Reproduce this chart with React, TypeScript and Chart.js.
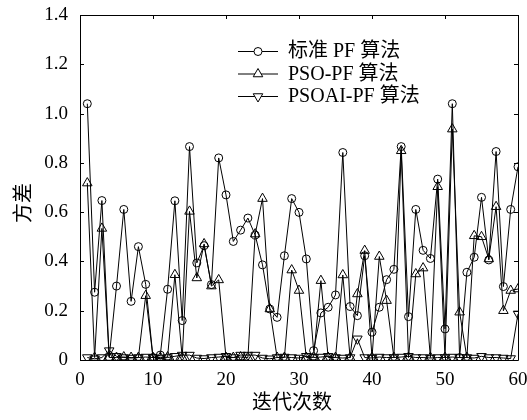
import React, { useEffect, useRef } from "react";
import { Chart, registerables } from "chart.js";

Chart.register(...registerables);

const iterations = [
  1, 2, 3, 4, 5, 6, 7, 8, 9, 10,
  11, 12, 13, 14, 15, 16, 17, 18, 19, 20,
  21, 22, 23, 24, 25, 26, 27, 28, 29, 30,
  31, 32, 33, 34, 35, 36, 37, 38, 39, 40,
  41, 42, 43, 44, 45, 46, 47, 48, 49, 50,
  51, 52, 53, 54, 55, 56, 57, 58, 59, 60,
];

const standardPF = [
  1.04, 0.275, 0.647, 0.012, 0.3, 0.611, 0.238, 0.46, 0.307, 0.01,
  0.02, 0.287, 0.646, 0.16, 0.866, 0.394, 0.464, 0.306, 0.82, 0.67,
  0.481, 0.527, 0.576, 0.507, 0.386, 0.207, 0.173, 0.423, 0.655, 0.599,
  0.41, 0.038, 0.191, 0.214, 0.264, 0.842, 0.217, 0.18, 0.423, 0.113,
  0.214, 0.326, 0.368, 0.866, 0.176, 0.611, 0.445, 0.412, 0.734, 0.126,
  1.04, 0.01, 0.356, 0.417, 0.66, 0.406, 0.846, 0.298, 0.611, 0.784,
];

const psoPF = [
  0.718, 0.01, 0.534, 0.01, 0.01, 0.012, 0.01, 0.01, 0.261, 0.01,
  0.01, 0.012, 0.346, 0.01, 0.603, 0.333, 0.471, 0.3, 0.325, 0.01,
  0.01, 0.012, 0.01, 0.511, 0.655, 0.207, 0.01, 0.01, 0.365, 0.282,
  0.01, 0.012, 0.322, 0.01, 0.01, 0.345, 0.01, 0.268, 0.444, 0.01,
  0.42, 0.241, 0.01, 0.849, 0.01, 0.349, 0.373, 0.01, 0.703, 0.01,
  0.937, 0.194, 0.01, 0.504, 0.5, 0.41, 0.622, 0.2, 0.282, 0.288,
];

const psoaiPF = [
  0.01, 0.005, 0.01, 0.038, 0.015, 0.01, 0.008, 0.01, 0.012, 0.01,
  0.006, 0.01, 0.015, 0.02, 0.02, 0.008, 0.006, 0.01, 0.012, 0.015,
  0.01, 0.02, 0.02, 0.02, 0.008, 0.005, 0.01, 0.012, 0.01, 0.008,
  0.015, 0.01, 0.012, 0.015, 0.01, 0.008, 0.01, 0.086, 0.01, 0.008,
  0.012, 0.01, 0.01, 0.012, 0.015, 0.01, 0.01, 0.008, 0.01, 0.01,
  0.012, 0.01, 0.01, 0.008, 0.015, 0.01, 0.01, 0.008, 0.006, 0.187,
];

const seriesLabels = ["标准 PF 算法", "PSO-PF 算法", "PSOAI-PF 算法"];
const xTicks = [0, 10, 20, 30, 40, 50, 60];
const yTicks = [0, 0.2, 0.4, 0.6, 0.8, 1.0, 1.2, 1.4];
const xTitle = "迭代次数";
const yTitle = "方差";

const FONT = "'Liberation Serif', 'Times New Roman', 'Noto Sans CJK SC', serif";
const CJK_FONT = "'Noto Sans CJK SC', 'Liberation Serif', serif";

const framePlugin = {
  id: "framePlugin",
  afterDraw(chart: any) {
    const { ctx, chartArea } = chart;
    const { left, right, top, bottom } = chartArea;
    const xs = chart.scales.x;
    const ys = chart.scales.y;
    ctx.save();
    ctx.strokeStyle = "#000";
    ctx.lineWidth = 1;
    ctx.beginPath();
    ctx.rect(Math.round(left) + 0.5, Math.round(top) + 0.5, Math.round(right - left), Math.round(bottom - top));
    ctx.stroke();
    const tl = 4;
    ctx.beginPath();
    xTicks.forEach((v) => {
      const px = Math.round(xs.getPixelForValue(v)) + 0.5;
      ctx.moveTo(px, bottom);
      ctx.lineTo(px, bottom - tl);
      ctx.moveTo(px, top);
      ctx.lineTo(px, top + tl);
    });
    yTicks.forEach((v) => {
      const py = Math.round(ys.getPixelForValue(v)) + 0.5;
      ctx.moveTo(left, py);
      ctx.lineTo(left + tl, py);
      ctx.moveTo(right, py);
      ctx.lineTo(right - tl, py);
    });
    ctx.stroke();

    // axis titles
    ctx.fillStyle = "#000";
    ctx.font = `20px ${CJK_FONT}`;
    ctx.textAlign = "center";
    ctx.textBaseline = "middle";
    ctx.fillText(xTitle, 292, 401);
    ctx.save();
    ctx.translate(22, 203);
    ctx.rotate(-Math.PI / 2);
    ctx.fillText(yTitle, 0, 0);
    ctx.restore();

    // legend
    const lx0 = 238;
    const lx1 = 278;
    const rowY = [51, 73.5, 96];
    chart.data.datasets.forEach((ds: any, i: number) => {
      const y = rowY[i];
      ctx.save();
      ctx.beginPath();
      ctx.strokeStyle = "#000";
      ctx.lineWidth = 1;
      ctx.moveTo(lx0, y + 0.5);
      ctx.lineTo(lx1, y + 0.5);
      ctx.stroke();
      ctx.fillStyle = "#fff";
      const cx = (lx0 + lx1) / 2;
      ctx.beginPath();
      if (ds.pointStyle === "circle") {
        ctx.arc(cx, y + 0.5, ds.pointRadius, 0, Math.PI * 2);
      } else {
        const r = ds.pointRadius;
        const dir = ds.pointRotation === 180 ? -1 : 1;
        for (let k = 0; k < 3; k++) {
          const a = (k * 2 * Math.PI) / 3;
          const px = cx + Math.sin(a) * r;
          const py = y + 0.5 - dir * Math.cos(a) * r;
          if (k === 0) ctx.moveTo(px, py);
          else ctx.lineTo(px, py);
        }
        ctx.closePath();
      }
      ctx.fill();
      ctx.stroke();
      ctx.fillStyle = "#000";
      ctx.font = `20px ${FONT}`;
      ctx.textAlign = "left";
      ctx.textBaseline = "middle";
      ctx.fillText(ds.label, 288, y + 1);
      ctx.restore();
    });
    ctx.restore();
  },
};

export default function App() {
  const ref = useRef<HTMLCanvasElement | null>(null);
  useEffect(() => {
    document.body.style.margin = "0";
    const canvas = ref.current;
    if (!canvas) return;
    const mk = (vals: number[]) => iterations.map((x, i) => ({ x, y: vals[i] }));
    const common = {
      borderColor: "#000",
      borderWidth: 1,
      backgroundColor: "rgba(0,0,0,0)",
      pointBorderColor: "#000",
      pointBackgroundColor: "rgba(0,0,0,0)",
      pointBorderWidth: 1,
      tension: 0,
      fill: false,
    };
    const chart = new Chart(canvas, {
      type: "line",
      data: {
        datasets: [
          { ...common, label: seriesLabels[0], data: mk(standardPF), pointStyle: "circle", pointRadius: 4 },
          { ...common, label: seriesLabels[1], data: mk(psoPF), pointStyle: "triangle", pointRadius: 5.5 },
          { ...common, label: seriesLabels[2], data: mk(psoaiPF), pointStyle: "triangle", pointRadius: 5.5, pointRotation: 180 },
        ] as any,
      },
      options: {
        animation: false,
        responsive: false,
        maintainAspectRatio: false,
        layout: { padding: { left: 0, top: 15, right: 9, bottom: 0 } },
        plugins: { legend: { display: false }, tooltip: { enabled: false } },
        elements: { point: { hitRadius: 0, hoverRadius: 0 } },
        scales: {
          x: {
            type: "linear",
            min: 0,
            max: 60,
            grid: { display: false, drawTicks: false },
            border: { display: false },
            afterBuildTicks: (s: any) => {
              s.ticks = xTicks.map((v) => ({ value: v }));
            },
            afterFit: (s: any) => {
              s.height = 60;
              s.paddingLeft = 0;
              s.paddingRight = 0;
            },
            ticks: {
              color: "#000",
              font: { family: FONT, size: 19 },
              padding: 9,
              maxRotation: 0,
              autoSkip: false,
              callback: (v: any) => String(v),
            },
          },
          y: {
            type: "linear",
            min: 0,
            max: 1.4,
            grid: { display: false, drawTicks: false },
            border: { display: false },
            afterBuildTicks: (s: any) => {
              s.ticks = yTicks.map((v) => ({ value: v }));
            },
            afterFit: (s: any) => {
              s.width = 80;
              s.paddingTop = 0;
              s.paddingBottom = 0;
            },
            ticks: {
              color: "#000",
              font: { family: FONT, size: 19 },
              padding: 12,
              autoSkip: false,
              callback: (v: any) => (v === 0 ? "0" : Number(v).toFixed(1)),
            },
          },
        },
      } as any,
      plugins: [framePlugin],
    });
    return () => chart.destroy();
  }, []);
  return (
    <div style={{ width: 527, height: 420, background: "#fff" }}>
      <canvas ref={ref} width={527} height={420} style={{ display: "block" }} />
    </div>
  );
}
